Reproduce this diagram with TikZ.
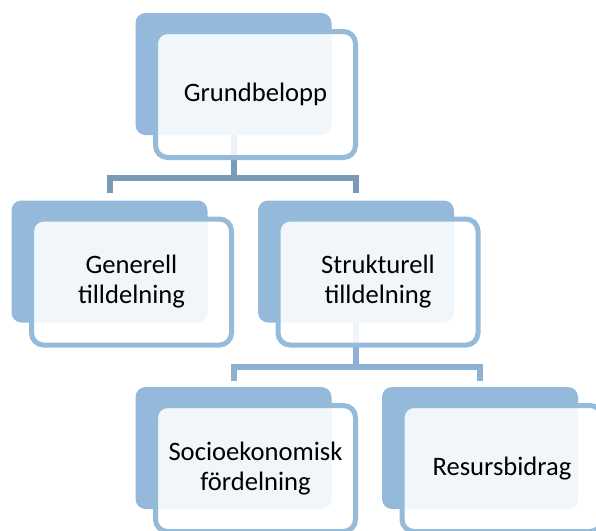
\documentclass[tikz,border=0pt]{standalone}
\usepackage{fontspec}
\setmainfont{Carlito}
\usetikzlibrary{positioning,calc}
\definecolor{backblue}{RGB}{148,185,218}
\definecolor{edgeblue}{RGB}{149,187,219}
\definecolor{linkdark}{RGB}{122,154,181}
\definecolor{linklight}{RGB}{141,177,209}
\tikzset{
  back/.style={rectangle,rounded corners=5pt,fill=backblue,
               minimum width=98pt,minimum height=61pt,inner sep=0pt},
  front/.style={rectangle,rounded corners=6pt,draw=edgeblue,line width=2.5pt,
                fill=white,fill opacity=0.88,text opacity=1,
                minimum width=100pt,minimum height=63pt,inner sep=0pt,
                align=center,font=\fontsize{13.3}{15}\selectfont},
  link/.style={line width=3pt,linkdark},
  linkB/.style={link,linklight},
}

\begin{document}
\begin{tikzpicture}[x=0.5pt,y=-0.5pt]
    \useasboundingbox (0,0) rectangle (596,531);
    \clip (0,0) rectangle (596,531);
    % back shapes
    \node[back] (gb)  at (233.5,74)  {};
    \node[back] (gen) at (109.5,261.5) {};
    \node[back] (str) at (356,261.5) {};
    \node[back] (soc) at (233.5,448) {};
    \node[back] (res) at (480,448) {};
    % connectors
    \draw[link,shorten >=3.5pt] (gb.south) -- ++(0,43) -| (gen.north);
    \draw[link,shorten >=3.5pt] (gb.south) -- ++(0,43) -| (str.north);
    \draw[linkB,shorten >=3pt] (str.south) -- ++(0,44) -| (soc.north);
    \draw[linkB,shorten >=3pt] (str.south) -- ++(0,44) -| (res.north);
    % text boxes
    \node[front] (gbT)  at ([shift={(22,20.5)}]gb.center)  {Grundbelopp};
    \node[front] (genT) at ([shift={(22,20.5)}]gen.center) {Generell\\tilldelning};
    \node[front] (strT) at ([shift={(22,20.5)}]str.center) {Strukturell\\tilldelning};
    \node[front] (socT) at ([shift={(22,20.5)}]soc.center) {Socioekonomisk\\fördelning};
    \node[front] (resT) at ([shift={(22,20.5)}]res.center) {Resursbidrag};
\end{tikzpicture}
\end{document}
